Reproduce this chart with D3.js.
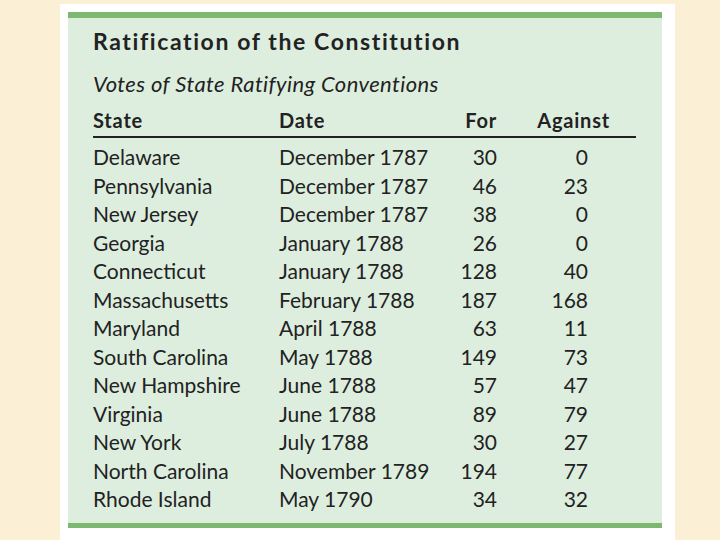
<!DOCTYPE html>
<html><head><meta charset="utf-8">
<script src="https://cdn.jsdelivr.net/npm/d3@7"></script>
<style>body{margin:0;background:#fbefd6}</style>
</head><body>
<script>
const states = ['Delaware', 'Pennsylvania', 'New Jersey', 'Georgia', 'Connecticut', 'Massachusetts',
  'Maryland', 'South Carolina', 'New Hampshire', 'Virginia', 'New York', 'North Carolina', 'Rhode Island']
const dates = ['December 1787', 'December 1787', 'December 1787', 'January 1788', 'January 1788',
  'February 1788', 'April 1788', 'May 1788', 'June 1788', 'June 1788', 'July 1788', 'November 1789', 'May 1790']
const votesFor = [30, 46, 38, 26, 128, 187, 63, 149, 57, 89, 30, 194, 34]
const votesAgainst = [0, 23, 0, 0, 40, 168, 11, 73, 47, 79, 27, 77, 32]
const headers = ['State', 'Date', 'For', 'Against']

const width = 720
const height = 540
const font = 'Lato, "Open Sans", sans-serif'

const svg = d3.select('body').append('svg')
  .attr('width', width).attr('height', height)

svg.append('rect').attr('width', width).attr('height', height).attr('fill', '#fbefd6')
svg.append('rect').attr('x', 60).attr('y', 4).attr('width', 615).attr('height', 536).attr('fill', '#ffffff')
svg.append('rect').attr('x', 68).attr('y', 12).attr('width', 594).attr('height', 516).attr('fill', '#ddeedf')
svg.append('rect').attr('x', 68).attr('y', 12).attr('width', 594).attr('height', 6).attr('fill', '#7cb86f')
svg.append('rect').attr('x', 68).attr('y', 523).attr('width', 594).attr('height', 5).attr('fill', '#7cb86f')

svg.append('text').text('Ratification of the Constitution')
  .attr('x', 93).attr('y', 50).attr('font-family', font).attr('font-weight', 'bold')
  .attr('font-size', '23px').attr('letter-spacing', '1.6px').attr('fill', '#222')
svg.append('text').text('Votes of State Ratifying Conventions')
  .attr('x', 93).attr('y', 92).attr('font-family', font).attr('font-style', 'italic')
  .attr('font-size', '22px').attr('letter-spacing', '0.4px').attr('fill', '#222')

// columns: x position and anchor
const colX = [93, 279, 497, 610]
const colAnchor = ['start', 'start', 'end', 'end']
const valueX = [93, 279, 497, 588]

svg.selectAll('text.head')
  .data(headers)
  .enter()
  .append('text')
  .attr('class', 'head')
  .text(function (d) { return d })
  .attr('x', function (d, i) { return colX[i] })
  .attr('y', 128)
  .attr('text-anchor', function (d, i) { return colAnchor[i] })
  .attr('font-family', font).attr('font-weight', 'bold')
  .attr('font-size', '20px').attr('letter-spacing', '0.8px').attr('fill', '#222')

svg.append('line').attr('x1', 93).attr('x2', 636).attr('y1', 137).attr('y2', 137)
  .attr('stroke', '#222').attr('stroke-width', 2)

const yScale = d3.scaleLinear().domain([0, states.length - 1]).range([165, 507])

const rows = svg.selectAll('g.row')
  .data(states.map(function (s, i) { return [s, dates[i], votesFor[i], votesAgainst[i]] }))
  .enter()
  .append('g')
  .attr('class', 'row')
  .attr('transform', function (d, i) { return 'translate(0,' + yScale(i) + ')' })

rows.selectAll('text')
  .data(function (d) { return d })
  .enter()
  .append('text')
  .text(function (d) { return d })
  .attr('x', function (d, i) { return valueX[i] })
  .attr('text-anchor', function (d, i) { return colAnchor[i] })
  .attr('font-family', font)
  .attr('font-size', '21px')
  .attr('fill', '#222')
</script>
</body></html>
